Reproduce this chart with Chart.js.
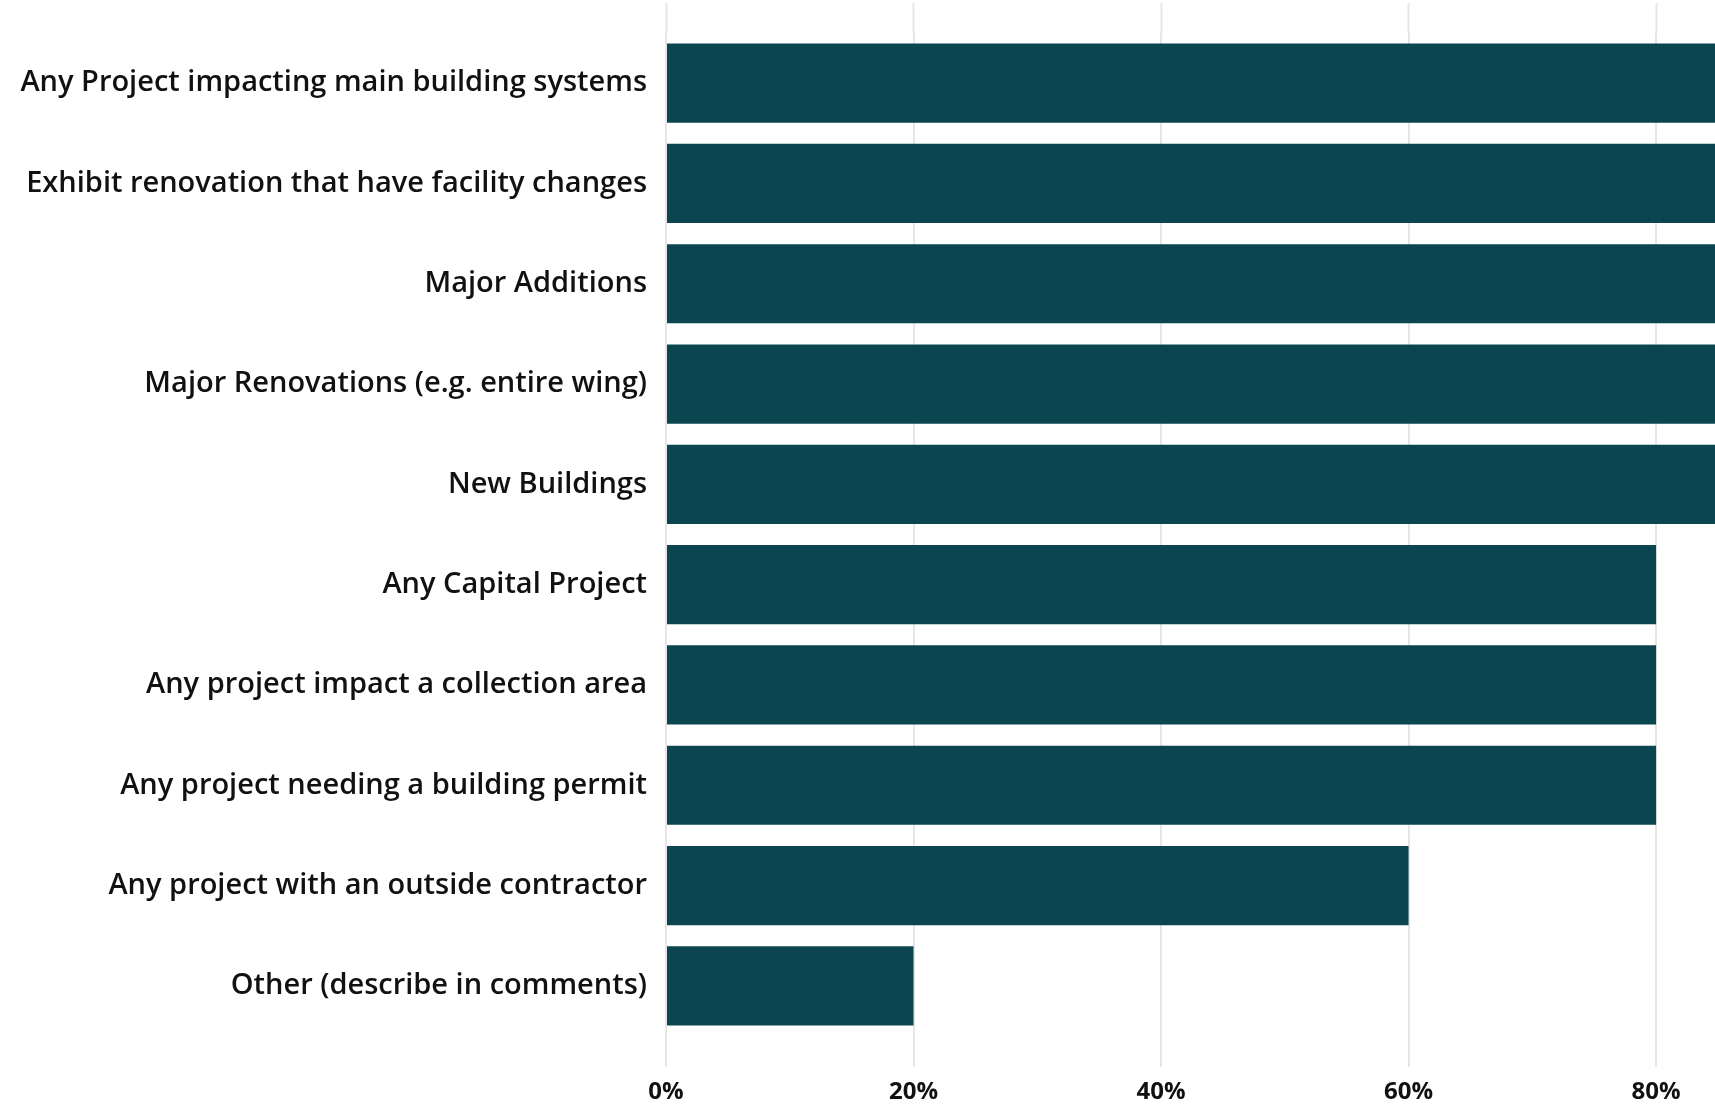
<!DOCTYPE html>
<html>
<head>
<meta charset="utf-8">
<script src="https://cdn.jsdelivr.net/npm/chart.js@4"></script>
<style>
  html, body { margin: 0; padding: 0; background: #ffffff; overflow: hidden; width: 1715px; height: 1105px; }
  #wrap { position: relative; width: 1946px; height: 1105px; }
</style>
</head>
<body>
<div id="wrap"><canvas id="c" width="1946" height="1105" style="width:1946px;height:1105px"></canvas></div>
<script>
const categories = [
  "Any Project impacting main building systems",
  "Exhibit renovation that have facility changes",
  "Major Additions",
  "Major Renovations (e.g. entire wing)",
  "New Buildings",
  "Any Capital Project",
  "Any project impact a collection area",
  "Any project needing a building permit",
  "Any project with an outside contractor",
  "Other (describe in comments)"
];
const shares = [100, 100, 100, 100, 100, 80, 80, 80, 60, 20];
const tickValues = [0, 20, 40, 60, 80, 100];

const barColor = "#0B4650";
const gridColor = "#e6e6e6";

new Chart(document.getElementById("c"), {
  type: "bar",
  data: {
    labels: categories,
    datasets: [{
      data: shares,
      backgroundColor: barColor,
      borderWidth: 0,
      categoryPercentage: 1,
      barPercentage: 0.79
    }]
  },
  options: {
    indexAxis: "y",
    responsive: false,
    devicePixelRatio: 1,
    animation: false,
    layout: { padding: { left: 0, right: 40, top: 3, bottom: 0 } },
    plugins: { legend: { display: false }, tooltip: { enabled: false } },
    scales: {
      x: {
        position: "bottom",
        min: 0, max: 100,
        afterBuildTicks: (s) => { s.ticks = tickValues.map(v => ({ value: v })); },
        border: { display: false },
        grid: { color: gridColor, lineWidth: 2, drawTicks: true, tickLength: 31, tickColor: gridColor, tickWidth: 2 },
        ticks: {
          padding: 11,
          color: "#111111",
          font: { family: "'Open Sans', sans-serif", size: 24, weight: "bold" },
          callback: (v) => v + "%"
        },
        afterFit: (s) => { s.height = 69; }
      },
      x2: {
        position: "top",
        min: 0, max: 100,
        afterBuildTicks: (s) => { s.ticks = tickValues.map(v => ({ value: v })); },
        border: { display: false },
        grid: { drawOnChartArea: false, drawTicks: true, tickLength: 30, tickColor: gridColor, tickWidth: 2 },
        ticks: { display: false },
        afterFit: (s) => { s.height = 30; }
      },
      y: {
        border: { display: false },
        grid: { display: false },
        ticks: {
          padding: 11,
          color: "#111111",
          font: { family: "'Open Sans', sans-serif", size: 29, weight: "600" }
        },
        afterFit: (s) => { s.width = 666; }
      }
    }
  }
});
</script>
</body>
</html>
